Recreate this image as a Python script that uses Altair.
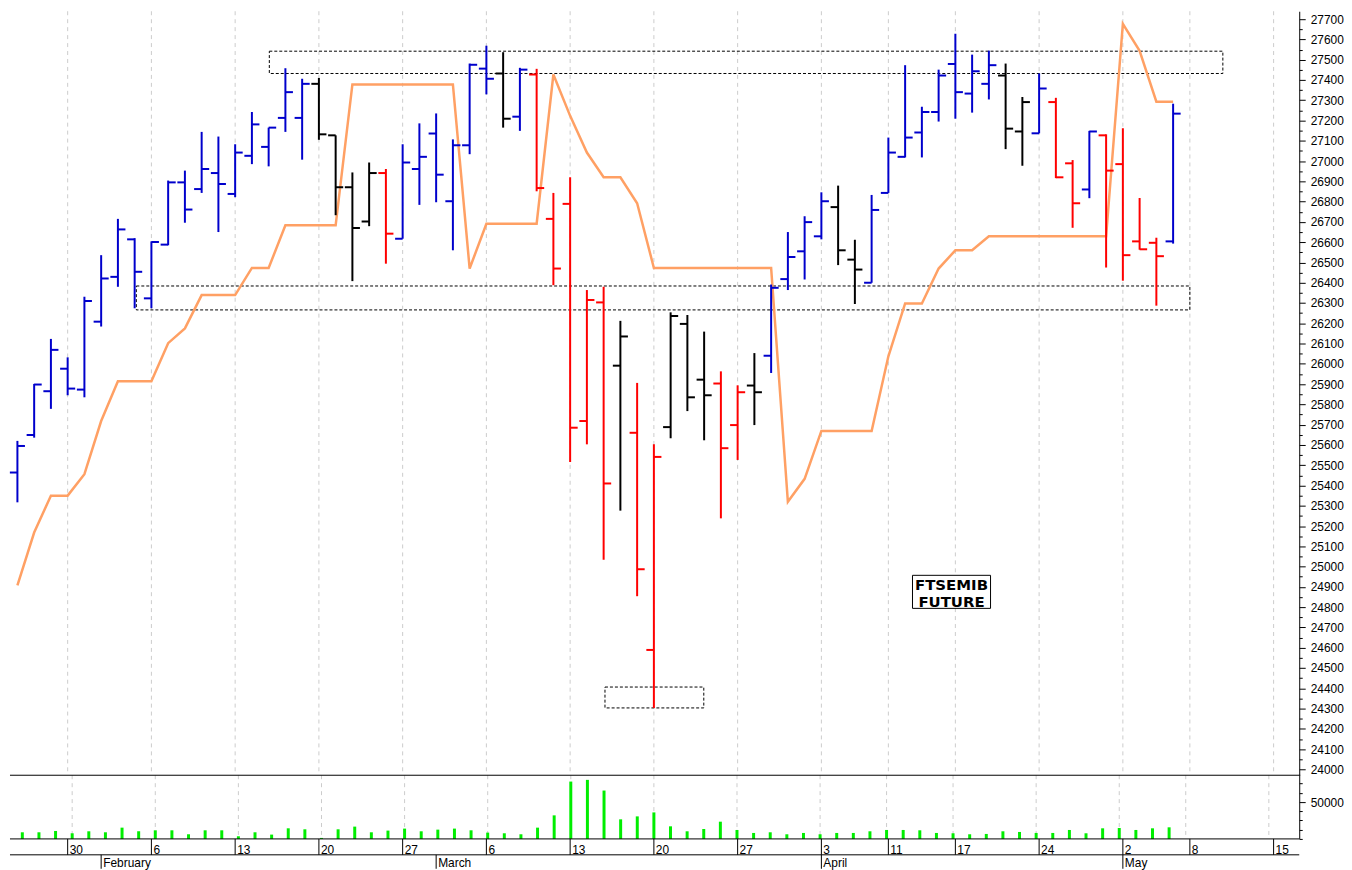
import altair as alt
import pandas as pd

# ---------------- data ----------------
days = ["Jan 25", "Jan 26", "Jan 27", "Jan 30", "Jan 31", "Feb 1", "Feb 2", "Feb 3",
        "Feb 6", "Feb 7", "Feb 8", "Feb 9", "Feb 10", "Feb 13", "Feb 14", "Feb 15",
        "Feb 16", "Feb 17", "Feb 20", "Feb 21", "Feb 22", "Feb 23", "Feb 24", "Feb 27",
        "Feb 28", "Mar 1", "Mar 2", "Mar 3", "Mar 6", "Mar 7", "Mar 8", "Mar 9",
        "Mar 10", "Mar 13", "Mar 14", "Mar 15", "Mar 16", "Mar 17", "Mar 20", "Mar 21",
        "Mar 22", "Mar 23", "Mar 24", "Mar 27", "Mar 28", "Mar 29", "Mar 30", "Mar 31",
        "Apr 3", "Apr 4", "Apr 5", "Apr 6", "Apr 11", "Apr 12", "Apr 13", "Apr 14",
        "Apr 17", "Apr 18", "Apr 19", "Apr 20", "Apr 21", "Apr 24", "Apr 25", "Apr 26",
        "Apr 27", "Apr 28", "May 2", "May 3", "May 4", "May 5"]

opens = [25464, 25649, 25865, 25976, 25873, 26208, 26429, 26614, 26323, 26588,
         26895, 26862, 26941, 26838, 27026, 27070, 27213, 27213, 27381, 27127,
         26871, 26702, 26941, 26617, 26961, 27136, 26802, 27078, 27456, 27432,
         27219, 27427, 26715, 26789, 25718, 26303, 25991, 25660, 24589, 25688,
         26197, 25922, 25903, 25698, 25893, 26040, 26418, 26555, 26629, 26773,
         26514, 26400, 26843, 27021, 27141, 27242, 27479, 27333, 27381, 27422,
         27146, 27137, 27291, 26989, 26860, 27127, 26985, 26604, 26597, 26604]
highs = [25620, 25901, 26123, 26032, 26331, 26536, 26715, 26620, 26604, 26904,
         26953, 27144, 27121, 27083, 27242, 27165, 27458, 27406, 27410, 27127,
         26944, 26993, 26961, 27083, 27186, 27235, 27107, 27481, 27569, 27537,
         27460, 27455, 26843, 26920, 26364, 26380, 26212, 25906, 25603, 26254,
         26241, 26159, 25963, 25894, 26053, 26391, 26650, 26728, 26846, 26879,
         26612, 26833, 27116, 27473, 27268, 27451, 27628, 27525, 27545, 27481,
         27316, 27432, 27312, 27005, 27149, 27132, 27162, 26818, 26622, 27283]
lows = [25317, 25636, 25778, 25845, 25835, 26184, 26380, 26274, 26274, 26585,
        26696, 26843, 26650, 26822, 26985, 26974, 27144, 27007, 27105, 26733,
        26408, 26679, 26494, 26617, 26784, 26797, 26560, 27034, 27329, 27165,
        27149, 26851, 26388, 25516, 25603, 25034, 25276, 24854, 24303, 25633,
        25767, 25623, 25238, 25526, 25698, 25955, 26364, 26416, 26614, 26487,
        26295, 26400, 26843, 27018, 27018, 27195, 27209, 27239, 27304, 27059,
        26977, 27137, 26916, 26671, 26817, 26475, 26410, 26563, 26287, 26593]
closes = [25595, 25898, 26069, 25878, 26310, 26421, 26663, 26454, 26601, 26895,
          26761, 26961, 26887, 27042, 27181, 27165, 27340, 27381, 27132, 26871,
          26670, 26941, 26642, 26993, 27021, 26933, 27078, 27475, 27406, 27209,
          27451, 26867, 26470, 25685, 26315, 25410, 26135, 24987, 25541, 26236,
          25835, 25845, 25584, 25860, 25860, 26375, 26527, 26699, 26802, 26560,
          26465, 26759, 27042, 27116, 27242, 27422, 27340, 27443, 27473, 27160,
          27291, 27358, 26920, 26792, 27146, 26953, 26536, 26565, 26531, 27234]
# bar colour class: b = blue, r = red, k = black
kinds = ["b"] * 18 + ["k", "k", "k", "k", "r"] + ["b"] * 6 + ["k", "b", "r", "r", "r", "r",
         "r", "k", "r", "r", "k", "k", "k", "r", "r", "k"] + ["b"] * 4 + ["k", "k"] + \
        ["b"] * 8 + ["k", "k", "b", "r", "r", "b", "r", "r", "r", "r", "b"]
volumes = [9000, 9000, 10800, 7650, 10350, 9000, 15300, 10350, 11700, 11700,
           6300, 11700, 11700, 3600, 9000, 5850, 14400, 13050, 1350, 13050,
           16700, 9000, 11300, 14000, 10350, 12600, 14000, 11700, 8550, 7650,
           6300, 15300, 32000, 77900, 80200, 65700, 26600, 30600, 36000, 17100,
           10350, 13500, 23400, 12150, 8100, 9000, 6300, 8100, 6300, 8100,
           8100, 10350, 12150, 12150, 11700, 8100, 7650, 6300, 6750, 10350,
           9450, 8100, 8100, 12150, 7650, 14400, 14850, 12150, 14400, 15750]
stops = [24908, 25168, 25350, 25350, 25456, 25718, 25914, 25914, 25914, 26102,
         26175, 26339, 26339, 26339, 26473, 26473, 26683, 26683, 26683, 26683,
         27378, 27378, 27378, 27378, 27378, 27378, 27378, 26470, 26691, 26691,
         26691, 26691, 27427, 27223, 27042, 26920, 26920, 26792, 26473, 26473,
         26473, 26473, 26473, 26473, 26473, 26473, 25320, 25433, 25669, 25669,
         25669, 25669, 26037, 26298, 26298, 26470, 26560, 26560, 26629, 26629,
         26629, 26629, 26629, 26629, 26629, 26629, 27677, 27544, 27293, 27293]

week_idx = [3, 8, 13, 18, 23, 28, 33, 38, 43, 48, 52, 56, 61, 66, 70, 75]
week_labels = ["30", "6", "13", "20", "27", "6", "13", "20", "27", "3", "11", "17",
               "24", "2", "8", "15"]
month_idx = [5, 25, 48, 66]
month_labels = ["February", "March", "April", "May"]

# dotted zones (trading-day index, price)
zone_x1 = [15.04, 7.1, 35.08]
zone_x2 = [71.97, 70.0, 40.98]
zone_lo = [27432, 26266, 24303]
zone_hi = [27542, 26384, 24406]

# label box
box_x1, box_x2 = [53.44], [58.10]
box_lo, box_hi = [24794], [24957]
label_lines = ["FTSEMIB", "FUTURE"]
label_x = [55.77, 55.77]
label_y = [24884, 24802]

price_major = list(range(24000, 27800, 100))
price_minor = list(range(24050, 27700, 100))
vol_major = [50000]
vol_minor = [0, 12500, 25000, 37500, 62500, 75000]

# ---------------- build ----------------
W = 1296
H_PRICE = 768
H_VOL = 64
H_AX = 30
FONT = "Liberation Sans"

bars = pd.DataFrame({"i": list(range(len(opens))), "day": days, "open": opens,
                     "high": highs, "low": lows, "close": closes, "kind": kinds,
                     "vol": volumes, "stop": stops})
weeks = pd.DataFrame({"i": week_idx, "lab": week_labels})
months = pd.DataFrame({"i": month_idx, "lab": month_labels})
zones = pd.DataFrame({"x1": zone_x1, "x2": zone_x2, "lo": zone_lo, "hi": zone_hi})
box = pd.DataFrame({"x1": box_x1, "x2": box_x2, "lo": box_lo, "hi": box_hi})
labels = pd.DataFrame({"x": label_x, "y": label_y, "t": label_lines})
one = pd.DataFrame({"a": [0]})

x_scale = alt.Scale(domain=[-0.443, 76.53], nice=False, zero=False)
y_scale = alt.Scale(domain=[23971, 27739], nice=False, zero=False)
v_scale = alt.Scale(domain=[0, 86486], nice=False, zero=False)
kind_color = alt.Color("kind:N", scale=alt.Scale(domain=["b", "r", "k"],
                       range=["#0000cc", "#ff0000", "#000000"]), legend=None)


def X(field="i:Q"):
    return alt.X(field, scale=x_scale, axis=None)


def Yp(field):
    return alt.Y(field, scale=y_scale, axis=None)


grid = alt.Chart(weeks).mark_rule(color="#cccccc", strokeDash=[4, 4], strokeWidth=1).encode(x=X())

zones_ch = alt.Chart(zones).mark_rect(fillOpacity=0, stroke="black", strokeWidth=1,
                                      strokeDash=[3, 2]).encode(
    x=X("x1:Q"), x2="x2:Q", y=Yp("lo:Q"), y2="hi:Q")

stop_line = alt.Chart(bars).mark_line(color="#ffa064", strokeWidth=2.5).encode(
    x=X(), y=Yp("stop:Q"))

box_ch = alt.Chart(box).mark_rect(fill="white", stroke="black", strokeWidth=1).encode(
    x=X("x1:Q"), x2="x2:Q", y=Yp("lo:Q"), y2="hi:Q")

label_ch = alt.Chart(labels).mark_text(font="DejaVu Sans", fontWeight="bold", fontSize=15,
                                       align="center", baseline="alphabetic",
                                       color="black").encode(
    x=X("x:Q"), y=Yp("y:Q"), text="t:N")

hl = alt.Chart(bars).mark_rule(strokeWidth=2).encode(
    x=X(),
    y=alt.Y("low:Q", scale=y_scale,
            axis=alt.Axis(orient="right", values=price_major, format="d", tickSize=6,
                          labelPadding=5, labelFont=FONT, labelFontSize=12,
                          labelColor="black", domainColor="black", tickColor="black",
                          grid=False, title=None, labelFlush=False, labelOverlap=False)),
    y2="high:Q", color=kind_color)

op = alt.Chart(bars).transform_calculate(xl="datum.i - 0.45").mark_rule(strokeWidth=2).encode(
    x=X("xl:Q"), x2="i:Q", y=Yp("open:Q"), color=kind_color)

cl = alt.Chart(bars).transform_calculate(xr="datum.i + 0.45").mark_rule(strokeWidth=2).encode(
    x=X(), x2="xr:Q", y=Yp("close:Q"), color=kind_color)

pminor = alt.Chart(pd.DataFrame({"v": price_minor})).mark_point(opacity=0).encode(
    y=alt.Y("v:Q", scale=y_scale,
            axis=alt.Axis(orient="right", values=price_minor, labels=False, domain=False,
                          tickSize=3, tickColor="black", grid=False, title=None)))

price = alt.layer(grid, zones_ch, stop_line, box_ch, label_ch, hl, op, cl, pminor).resolve_axis(
    y="independent").properties(width=W, height=H_PRICE)

# volume panel
vgrid = alt.Chart(weeks).mark_rule(color="#cccccc", strokeDash=[4, 4], strokeWidth=1).encode(x=X())
vbars = alt.Chart(bars).mark_bar(size=3, color="#00ee00").encode(
    x=X(),
    y=alt.Y("vol:Q", scale=v_scale,
            axis=alt.Axis(orient="right", values=vol_major, format="d", tickSize=6,
                          labelPadding=5, labelFont=FONT, labelFontSize=12,
                          labelColor="black", domainColor="black", tickColor="black",
                          grid=False, title=None, labelFlush=False)))
vsep = alt.Chart(one).mark_rule(color="black", strokeWidth=1).encode(
    x=alt.value(0), x2=alt.value(W + 1), y=alt.value(0))
vminor = alt.Chart(pd.DataFrame({"v": vol_minor})).mark_point(opacity=0).encode(
    y=alt.Y("v:Q", scale=v_scale,
            axis=alt.Axis(orient="right", values=vol_minor, labels=False, domain=False,
                          tickSize=3, tickColor="black", grid=False, title=None)))
vol = alt.layer(vgrid, vbars, vsep, vminor).resolve_axis(y="independent").properties(
    width=W, height=H_VOL)

# date axis panel
line0 = alt.Chart(one).mark_rule(color="black", strokeWidth=1).encode(
    x=alt.value(0), x2=alt.value(W), y=alt.value(0))
line1 = alt.Chart(one).mark_rule(color="black", strokeWidth=1).encode(
    x=alt.value(0), x2=alt.value(W), y=alt.value(16))
day_ticks = alt.Chart(weeks).mark_rule(color="black", strokeWidth=1).encode(
    x=X(), y=alt.value(0), y2=alt.value(16))
day_text = alt.Chart(weeks).mark_text(align="left", baseline="alphabetic", dx=2, font=FONT,
                                      fontSize=12, color="black").encode(
    x=X(), y=alt.value(15), text="lab:N")
mon_ticks = alt.Chart(months).mark_rule(color="black", strokeWidth=1).encode(
    x=X(), y=alt.value(16), y2=alt.value(30))
mon_text = alt.Chart(months).mark_text(align="left", baseline="alphabetic", dx=2, font=FONT,
                                       fontSize=12, color="black").encode(
    x=X(), y=alt.value(28.5), text="lab:N")
axis_panel = alt.layer(line0, line1, day_ticks, day_text, mon_ticks, mon_text).properties(
    width=W, height=H_AX)

chart = alt.vconcat(price, vol, axis_panel, spacing=0, bounds="flush").configure_view(
    strokeWidth=0).properties(padding=0, background="white")

chart.save("out.html", embed_options={"renderer": "svg", "actions": False})
